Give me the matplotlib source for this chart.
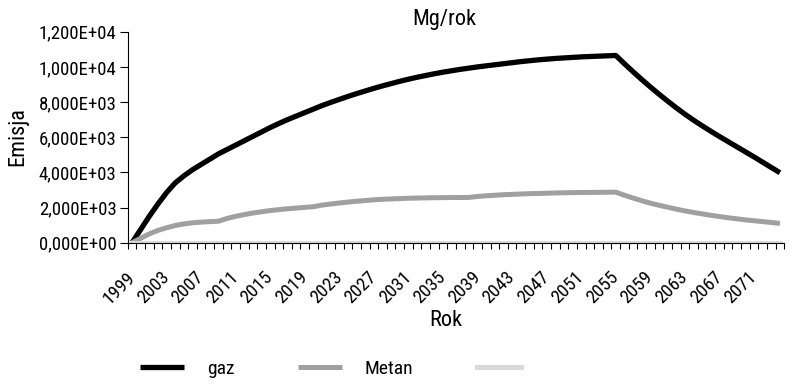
import matplotlib
matplotlib.use("Agg")
import matplotlib.pyplot as plt
from matplotlib import font_manager
from matplotlib.ticker import FuncFormatter, FixedLocator

# narrow sans if available
dostepne = {f.name for f in font_manager.fontManager.ttflist}
czcionka = "Liberation Sans"
for kandydat in ["Liberation Sans Narrow", "Roboto Condensed", "Open Sans Condensed", "Noto Sans Condensed"]:
    if kandydat in dostepne:
        czcionka = kandydat
        break
plt.rcParams["font.family"] = [czcionka, "DejaVu Sans"]

lata = list(range(1999, 2075))
etykiety_lat = list(range(1999, 2075, 4))

gaz = [
    0, 750, 1500, 2200, 2850, 3400, 3800, 4150, 4450, 4750,
    5050, 5300, 5550, 5800, 6050, 6300, 6550, 6780, 7000, 7200,
    7400, 7600, 7800, 7980, 8150, 8320, 8480, 8630, 8780, 8920,
    9050, 9180, 9300, 9410, 9510, 9610, 9700, 9780, 9860, 9930,
    10000, 10060, 10120, 10180, 10240, 10300, 10350, 10400, 10440, 10480,
    10510, 10540, 10570, 10590, 10610, 10630, 10650,
    10180, 9725, 9285, 8860, 8450, 8055, 7675, 7310, 6970, 6650,
    6340, 6040, 5750, 5460, 5170, 4880, 4580, 4280, 3980,
]
metan = [
    0, 250, 500, 700, 850, 980, 1070, 1130, 1170, 1200,
    1220, 1380, 1500, 1600, 1690, 1760, 1830, 1880, 1930, 1970,
    2010, 2050, 2140, 2200, 2260, 2310, 2360, 2400, 2440, 2470,
    2490, 2510, 2530, 2540, 2550, 2560, 2565, 2570, 2570, 2575,
    2630, 2670, 2700, 2730, 2750, 2770, 2790, 2800, 2815, 2830,
    2840, 2850, 2855, 2860, 2865, 2870, 2875,
    2700, 2540, 2390, 2250, 2130, 2020, 1910, 1810, 1720, 1640,
    1560, 1490, 1420, 1360, 1300, 1250, 1200, 1150, 1100,
]
trzeci = [
    0, 0, 0, 0, 0, 0, 0, 0, 0, 0, 0, 0, 0, 0, 0, 0, 0, 0, 0,
    0, 0, 0, 0, 0, 0, 0, 0, 0, 0, 0, 0, 0, 0, 0, 0, 0, 0, 0,
    0, 0, 0, 0, 0, 0, 0, 0, 0, 0, 0, 0, 0, 0, 0, 0, 0, 0, 0,
    0, 0, 0, 0, 0, 0, 0, 0, 0, 0, 0, 0, 0, 0, 0, 0, 0, 0, 0,
]

fig = plt.figure(figsize=(7.92, 3.86), dpi=100)
ax = fig.add_axes([0.1612, 0.3712, 0.8290, 0.5466])

ax.plot(lata, gaz, color="#000000", lw=3.8, solid_capstyle="butt", label="gaz")
ax.plot(lata, metan, color="#a0a0a0", lw=3.6, solid_capstyle="butt", label="Metan")
ax.plot(lata, trzeci, color="#d9d9d9", lw=3.6, solid_capstyle="projecting", label=" ")

ax.set_xlim(lata[0] - 0.5, lata[-1] + 0.5)
ax.set_ylim(0, 12000)
ax.set_yticks(range(0, 12001, 2000))
ax.yaxis.set_major_formatter(FuncFormatter(lambda v, p: f"{v:.3E}".replace(".", ",")))

# tick marks between categories, year labels on minor ticks
ax.xaxis.set_major_locator(FixedLocator([r - 0.5 for r in lata] + [lata[-1] + 0.5]))
ax.xaxis.set_major_formatter(FuncFormatter(lambda v, p: ""))
ax.xaxis.set_minor_locator(FixedLocator(etykiety_lat))
ax.xaxis.set_minor_formatter(FuncFormatter(lambda v, p: f"{int(round(v))}"))
ax.tick_params(axis="x", which="major", direction="out", length=4, width=0.8, color="black")
ax.tick_params(axis="x", which="minor", length=0, pad=23, labelsize=13.5)
for t in ax.xaxis.get_minorticklabels():
    t.set_rotation(45)
    t.set_ha("right")
    t.set_va("center")
    t.set_rotation_mode("anchor")
ax.tick_params(axis="y", direction="out", length=6, width=0.8, pad=2, labelsize=13.5)

for s in ["top", "right"]:
    ax.spines[s].set_visible(False)
ax.spines["left"].set_linewidth(0.8)
ax.spines["bottom"].set_linewidth(0.8)

fig.text(18 / 792, 1 - 137 / 386, "Emisja", fontsize=16, rotation=90, ha="center", va="center")
fig.text(444 / 792, 1 - 20 / 386, "Mg/rok", fontsize=16, ha="center", va="center")
fig.text(446 / 792, 1 - 320 / 386, "Rok", fontsize=16, ha="center", va="center")

fig.legend(loc="center left", bbox_to_anchor=(140 / 792, 1 - 369 / 386), ncol=3, frameon=False,
           fontsize=14, handlelength=2.27, handletextpad=1.18, columnspacing=3.25,
           borderpad=0, borderaxespad=0)

fig.savefig("out.png", dpi=100)
